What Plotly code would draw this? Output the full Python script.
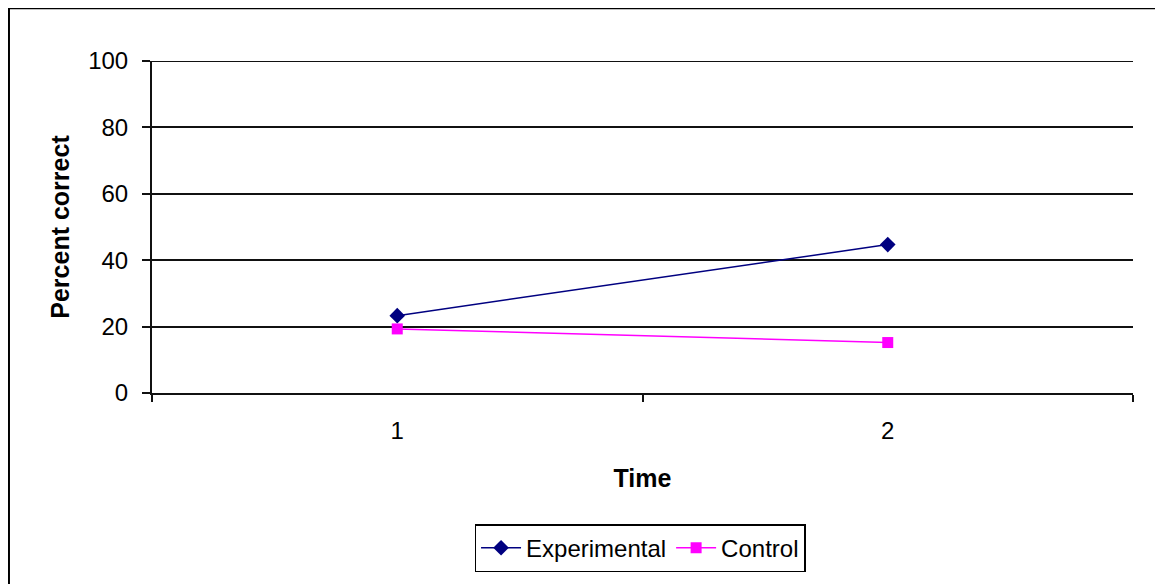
import plotly.graph_objects as go

times = [1, 2]
experimental = [23.3, 44.7]
control = [19.3, 15.2]
y_ticks = [0, 20, 40, 60, 80, 100]

fig = go.Figure()
fig.add_trace(go.Scatter(x=times, y=experimental, name="Experimental", mode="lines+markers",
                         line=dict(color="#000080", width=1.5),
                         marker=dict(symbol="diamond", size=12, color="#000080")))
fig.add_trace(go.Scatter(x=times, y=control, name="Control", mode="lines+markers",
                         line=dict(color="#FF00FF", width=1.5),
                         marker=dict(symbol="square", size=11, color="#FF00FF")))

font = "Liberation Sans, Arial, sans-serif"
fig.update_layout(
    width=1155, height=576,
    margin=dict(l=144, r=30, t=53, b=189),
    paper_bgcolor="white", plot_bgcolor="white",
    font=dict(family=font, size=24, color="black"),
    showlegend=True,
    legend=dict(orientation="h", x=0.4975, xanchor="center", y=-0.395, yanchor="top",
                bordercolor="black", borderwidth=1.5, font=dict(size=24),
                itemwidth=40, tracegroupgap=0),
    xaxis=dict(range=[0.5, 2.5], tickmode="array", tickvals=times, ticktext=[str(t) for t in times],
               ticks="", showgrid=False, showline=True, linecolor="#111", linewidth=2,
               zeroline=False, ticklabelstandoff=15,
               minor=dict(ticks="outside", tick0=0.5, dtick=1, ticklen=7, tickcolor="#111",
                          tickwidth=2, showgrid=False),
               title=dict(text="<b>Time</b>", standoff=27, font=dict(size=25))),
    yaxis=dict(range=[0, 100], tickmode="array", tickvals=y_ticks, ticks="outside", ticklen=8,
               tickcolor="#111", tickwidth=2, showgrid=True, gridcolor="#111", gridwidth=2,
               showline=True, linecolor="#111", linewidth=2, zeroline=False,
               ticklabelstandoff=9,
               title=dict(text="<b>Percent correct</b>", standoff=11, font=dict(size=25))),
)
fig.add_shape(type="line", xref="paper", yref="y", x0=0, x1=1, y0=100, y1=100,
              line=dict(color="#111", width=2), layer="below")
fig.add_shape(type="rect", xref="paper", yref="paper", x0=-0.1458, x1=1.0275, y0=-0.7, y1=1.1587,
              line=dict(color="black", width=2), fillcolor="rgba(0,0,0,0)", layer="below")

fig.write_html("out.html")
